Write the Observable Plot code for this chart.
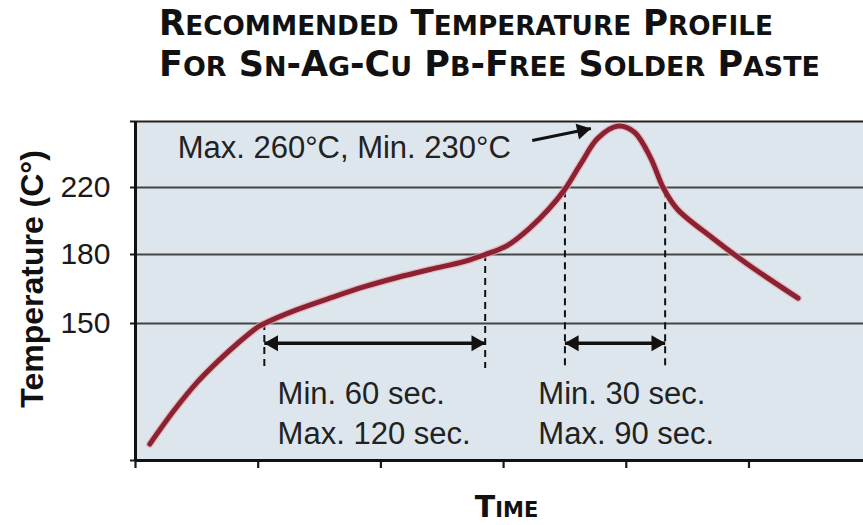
<!DOCTYPE html>
<html>
<head>
<meta charset="utf-8">
<script src="https://cdn.jsdelivr.net/npm/d3@7"></script>
<script src="https://cdn.jsdelivr.net/npm/@observablehq/plot@0.6"></script>
<style>
  html, body { margin: 0; padding: 0; background: #fff; }
  body { width: 863px; height: 525px; overflow: hidden; position: relative; }
  .tl { position: absolute; left: 159px; font-family: "DejaVu Sans", sans-serif; font-weight: bold;
        font-size: 35px; line-height: 35px; white-space: nowrap; color: #111; transform-origin: 0 0; }
  .tl .sc { font-size: 0.77em; text-transform: uppercase; }
  #chart { position: absolute; left: 0; top: 100px; }
</style>
</head>
<body>
<div class="tl" id="t1"></div>
<div class="tl" id="t2"></div>
<div id="chart"></div>
<script>
// ---- text ----
const titleLines = ["Recommended Temperature Profile", "For Sn-Ag-Cu Pb-Free Solder Paste"];
const xAxisLabel = "Time";
const yAxisLabel = "Temperature (C°)";

// ---- axes ----
const yTicks = [150, 180, 220];           // labelled gridlines (°C)
const yBottom = 25, yTop = 263;           // unlabelled ends of the temperature axis
const xTicks = [0, 60, 120, 180, 240, 300]; // unlabelled time ticks (s)

// ---- reflow profile (time in s, temperature in °C) ----
const timeSec = [7, 19, 30, 40, 50, 60, 63, 79, 95, 112, 128, 144, 161, 171, 182, 193, 202, 210, 218, 226, 236, 244, 252, 258, 265, 282, 299, 324];
const tempC   = [40, 71, 96, 115, 132, 147, 150, 156, 161, 166, 170, 173.5, 177, 180, 185.5, 196, 207, 219, 236, 252, 260, 256, 239, 220, 207, 190, 176, 161];

// ---- time windows ----
const windowStart = [63, 210];
const windowEnd = [171, 259];
const windowStartTemp = [150, 218];
const windowEndTemp = [180, 218];
const windowText = ["Min. 60 sec.\nMax. 120 sec.", "Min. 30 sec.\nMax. 90 sec."];
const windowTextTime = [69.5, 197];
const windowTextTemp = 103.5;
const windowArrowTemp = 132;
const windowDashBottom = 109;

// ---- peak annotation ----
const peakText = "Max. 260°C, Min. 230°C";
const peakTextAt = [20.6, 246];
const peakArrowFrom = [194, 250.6];
const peakArrowTo = [222.7, 258.4];

// title with small caps
function fillTitle(el, s) {
  let html = "";
  for (const ch of s) {
    if (ch >= "a" && ch <= "z") html += `<span class="sc">${ch}</span>`;
    else html += ch;
  }
  el.innerHTML = html;
}
const t1 = document.getElementById("t1"), t2 = document.getElementById("t2");
fillTitle(t1, titleLines[0]); fillTitle(t2, titleLines[1]);
t1.style.top = "6px"; t2.style.top = "47px";
function fitWidth(el, target) {
  const w = el.getBoundingClientRect().width;
  el.style.transform = `scaleX(${target / w})`;
}
fitWidth(t1, 614); fitWidth(t2, 661);

const profile = timeSec.map((t, i) => ({t, temp: tempC[i]}));
const windows = windowStart.map((s, i) => ({
  start: s, end: windowEnd[i], startTemp: windowStartTemp[i], endTemp: windowEndTemp[i],
  text: windowText[i], textTime: windowTextTime[i]
}));
const dashes = windows.flatMap(w => [{t: w.start, top: w.startTemp}, {t: w.end, top: w.endTemp}]);

const sans = "'Liberation Sans', Arial, sans-serif";

const chart = Plot.plot({
  width: 863, height: 425,
  marginTop: 21, marginBottom: 65, marginLeft: 135, marginRight: 0,
  style: {background: "transparent", color: "#1a1a1a", fontFamily: sans, overflow: "visible"},
  x: {domain: [0, 356], axis: null},
  y: {type: "linear", domain: [yBottom, ...yTicks, yTop], range: [360, 223, 154, 87, 21], axis: null},
  marks: [
    Plot.frame({fill: "#dde6ec", stroke: null}),
    Plot.gridY(yTicks, {stroke: "#454545", strokeOpacity: 1, strokeWidth: 1.8}),
    Plot.ruleY([yTop], {stroke: "#222", strokeWidth: 2.2}),
    Plot.axisY([yBottom, ...yTicks, yTop], {
      tickSize: 5, tickPadding: 20, strokeWidth: 2, label: null,
      tickFormat: d => yTicks.includes(d) ? String(d) : "",
      fontSize: 30, fill: "#1a1a1a"
    }),
    Plot.axisX(xTicks, {tickSize: 8, strokeWidth: 2.2, tickFormat: () => "", label: null}),
    Plot.ruleY([yBottom], {stroke: "#111", strokeWidth: 3}),
    Plot.ruleX([0], {stroke: "#111", strokeWidth: 3}),
    // dashed window limits
    Plot.ruleX(dashes, {x: "t", y1: "top", y2: () => windowDashBottom, stroke: "#111", strokeWidth: 2, strokeDasharray: "7,5"}),
    // profile curve
    Plot.line(profile, {x: "t", y: "temp", curve: "catmull-rom", stroke: "#e9a7b0", strokeWidth: 7.5, strokeOpacity: 0.7}),
    Plot.line(profile, {x: "t", y: "temp", curve: "catmull-rom", stroke: "#8a2232", strokeWidth: 5}),
    // window arrows
    Plot.link(windows, {x1: "start", x2: "end", y1: () => windowArrowTemp, y2: () => windowArrowTemp, stroke: "#111", strokeWidth: 3.5}),
    Plot.dot(windows, {x: "end", y: () => windowArrowTemp, symbol: "triangle", r: 6, fill: "#111", stroke: null, rotate: 90, dx: -9}),
    Plot.dot(windows, {x: "start", y: () => windowArrowTemp, symbol: "triangle", r: 6, fill: "#111", stroke: null, rotate: -90, dx: 9}),
    Plot.text(windows, {x: "textTime", y: () => windowTextTemp, text: "text", textAnchor: "start", lineAnchor: "top",
      lineHeight: 1.32, fontSize: 31, fill: "#222"}),
    // peak annotation
    Plot.link([peakArrowFrom], {x1: d => d[0], y1: d => d[1], x2: () => peakArrowTo[0], y2: () => peakArrowTo[1], stroke: "#111", strokeWidth: 3}),
    Plot.dot([peakArrowTo], {x: d => d[0], y: d => d[1], symbol: "triangle", r: 6, fill: "#111", stroke: null, rotate: 78, dx: -9, dy: 2}),
    Plot.text([peakText], {x: () => peakTextAt[0], y: () => peakTextAt[1], text: d => d, textAnchor: "start", lineAnchor: "middle",
      fontSize: 31, fill: "#222"}),
    // axis labels
    Plot.text([yAxisLabel], {frameAnchor: "left", text: d => d, rotate: -90, dx: -103, dy: -12, textAnchor: "middle",
      fontWeight: "bold", fontSize: 32, fill: "#111"}),
    Plot.text([xAxisLabel], {frameAnchor: "bottom", text: d => d, dx: 7, dy: 47, lineAnchor: "middle",
      fontFamily: "'DejaVu Sans', sans-serif", fontWeight: "bold", fontSize: 30, fontVariant: "small-caps", fill: "#111"})
  ]
});
document.getElementById("chart").appendChild(chart);
</script>
</body>
</html>
